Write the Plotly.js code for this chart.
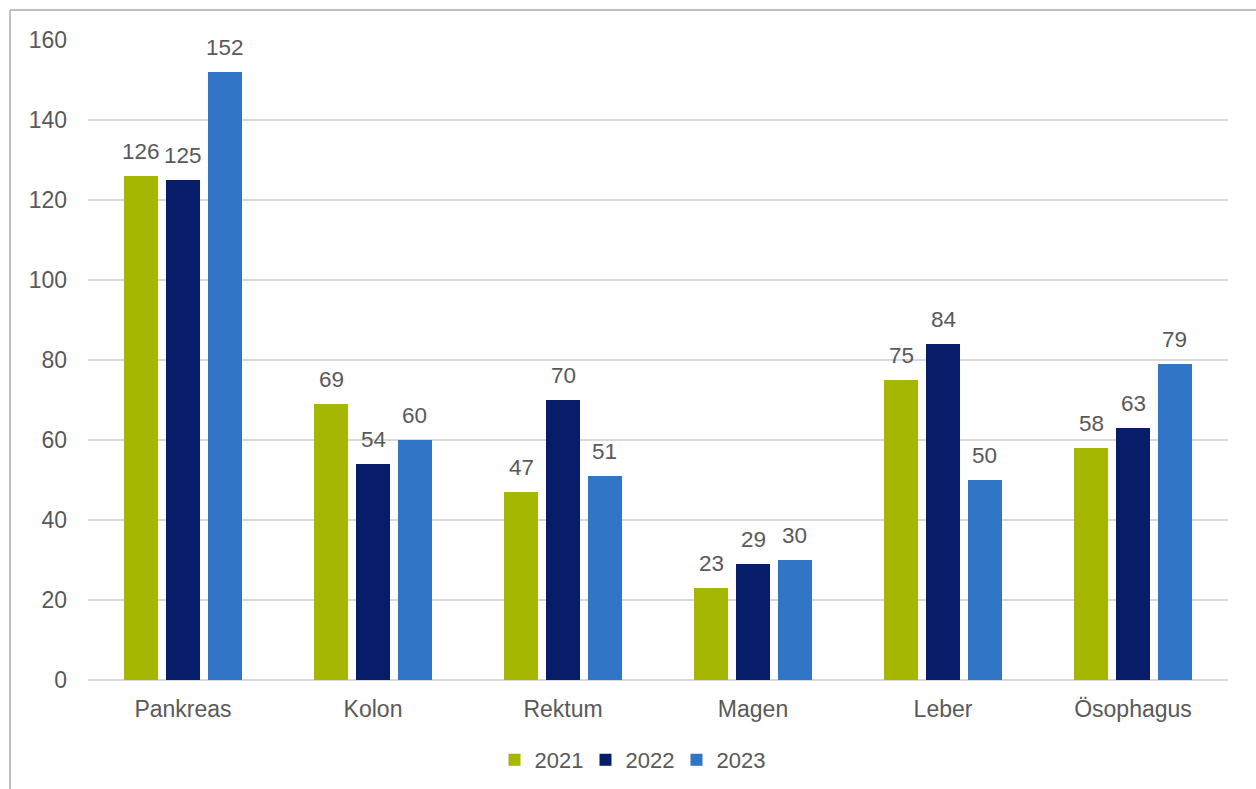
<!DOCTYPE html>
<html>
<head>
<meta charset="utf-8">
<script src="https://cdn.plot.ly/plotly-3.0.1.min.js"></script>
<style>html,body{margin:0;padding:0;background:#fff;}#chart{width:1256px;height:789px;}</style>
</head>
<body>
<div id="chart"></div>
<script>
const categories = ["Pankreas", "Kolon", "Rektum", "Magen", "Leber", "Ösophagus"];
const seriesNames = ["2021", "2022", "2023"];
const values2021 = [126, 69, 47, 23, 75, 58];
const values2022 = [125, 54, 70, 29, 84, 63];
const values2023 = [152, 60, 51, 30, 50, 79];
const yTicks = [0, 20, 40, 60, 80, 100, 120, 140, 160];
const colors = ["#A5B700", "#071D6A", "#3175C6"];

const seriesValues = [values2021, values2022, values2023];
const textColor = "#595959";
const fontFam = "Liberation Sans, Arial, sans-serif";

const W = 1256, H = 789;
const margin = {l: 88, r: 28, t: 40, b: 109, autoexpand: false};
const plotW = W - margin.l - margin.r;
const plotH = H - margin.t - margin.b;
const bargap = 0.337;
const catW = plotW / categories.length;
const slotW = catW * (1 - bargap) / seriesValues.length;

const traces = seriesValues.map((vals, i) => ({
  type: "bar",
  name: seriesNames[i],
  x: categories,
  y: vals,
  marker: {color: colors[i]},
  hoverinfo: "skip"
}));

const annotations = [];
seriesValues.forEach((vals, i) => {
  vals.forEach((v, j) => {
    annotations.push({
      x: categories[j],
      y: v,
      xref: "x",
      yref: "y",
      text: String(v),
      showarrow: false,
      xanchor: "center",
      yanchor: "middle",
      xshift: (i - (seriesValues.length - 1) / 2) * slotW,
      yshift: 25,
      font: {size: 22.5, color: textColor, family: fontFam}
    });
  });
});

const layout = {
  width: W,
  height: H,
  margin: margin,
  paper_bgcolor: "#fff",
  plot_bgcolor: "#fff",
  barmode: "group",
  bargap: bargap,
  bargroupgap: 0.19,
  font: {family: fontFam, size: 23, color: textColor},
  xaxis: {
    type: "category",
    showgrid: false,
    showline: false,
    zeroline: false,
    ticks: "",
    ticklabelstandoff: 13,
    automargin: false,
    tickfont: {size: 23, color: textColor}
  },
  yaxis: {
    range: [0, 160],
    tickvals: yTicks,
    ticktext: yTicks.map(String),
    showgrid: true,
    gridcolor: "#D9D9D9",
    gridwidth: 1.5,
    zeroline: true,
    zerolinecolor: "#D9D9D9",
    zerolinewidth: 1.5,
    showline: false,
    ticks: "",
    ticklabelstandoff: 20,
    automargin: false,
    tickfont: {size: 23, color: textColor}
  },
  legend: {
    orientation: "h",
    x: 0.5 - 27 / plotW,
    xanchor: "center",
    y: -80 / plotH,
    yanchor: "middle",
    entrywidth: 46,
    entrywidthmode: "pixels",
    font: {size: 22, color: textColor},
    itemclick: false
  },
  annotations: annotations,
  shapes: [
    {type: "line", xref: "paper", yref: "paper", x0: -78/plotW, x1: 1300/plotW, y0: (plotH + 30)/plotH, y1: (plotH + 30)/plotH, line: {color: "#BFBFBF", width: 2}},
    {type: "line", xref: "paper", yref: "paper", x0: -78/plotW, x1: -78/plotW, y0: (plotH + 30)/plotH, y1: -150/plotH, line: {color: "#BFBFBF", width: 2}}
  ]
};

Plotly.newPlot("chart", traces, layout, {displayModeBar: false, staticPlot: true});
</script>
</body>
</html>
